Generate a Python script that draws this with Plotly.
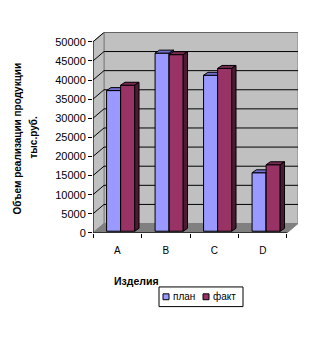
import plotly.graph_objects as go

categories = ["A", "B", "C", "D"]
plan = [36800, 46600, 40800, 15300]
fact = [38200, 46200, 42600, 17400]
series_names = ["план", "факт"]
series_colors = ["#9999FF", "#993366"]
y_ticks = list(range(0, 50001, 5000))
y_ticktext = [str(v) for v in y_ticks]

W, H = 311, 347
DX = 0.227      # depth offset of the walls in category units
DY = 2450       # depth offset of the walls in value units
BDX = 0.089     # bar depth (x)
BDY = 773       # bar depth (y)
BASE = 440
YMAX = 50000

font = "Liberation Sans, Arial, sans-serif"

fig = go.Figure()

def poly(xs, ys, fill, line="black", lw=1):
    fig.add_trace(go.Scatter(x=xs, y=ys, mode="lines", fill="toself", fillcolor=fill,
                             line=dict(color=line, width=lw), hoverinfo="skip",
                             showlegend=False))

n = len(categories)
x0, x1 = -0.5, n - 0.5
# back wall
poly([x0 + DX, x1 + DX, x1 + DX, x0 + DX, x0 + DX], [DY, DY, YMAX + DY, YMAX + DY, DY], "#C0C0C0", "#808080")
# left side wall
poly([x0, x0 + DX, x0 + DX, x0, x0], [0, DY, YMAX + DY, YMAX, 0], "#C0C0C0", "#808080")
# floor
poly([x0, x1, x1 + DX, x0 + DX, x0], [0, 0, DY, DY, 0], "#808080", "#808080")

# gridlines
gx, gy = [], []
for v in y_ticks[1:]:
    gx += [x0, x0 + DX, x1 + DX, None]
    gy += [v, v + DY, v + DY, None]
fig.add_trace(go.Scatter(x=gx, y=gy, mode="lines", line=dict(color="black", width=1),
                         hoverinfo="skip", showlegend=False))

def bar_traces(values, off, width, cfront, ctop, cside):
    fx, fy, tx, ty, sx, sy = [], [], [], [], [], []
    for i, v in enumerate(values):
        a, b = i + off, i + off + width
        top = BASE + v
        fx += [a, b, b, a, a, None]; fy += [BASE, BASE, top, top, BASE, None]
        tx += [a, a + BDX, b + BDX, b, a, None]; ty += [top, top + BDY, top + BDY, top, top, None]
        sx += [b, b + BDX, b + BDX, b, b, None]; sy += [BASE, BASE + BDY, top + BDY, top, BASE, None]
    poly(fx, fy, cfront)
    poly(tx, ty, ctop)
    poly(sx, sy, cside)

bar_traces(plan, -0.22, 0.29, series_colors[0], "#7070D0", "#4D4D99")
bar_traces(fact, 0.07, 0.29, series_colors[1], "#7A2952", "#4C1A33")

# front axis lines
fig.add_trace(go.Scatter(x=[x0, x0, x1], y=[YMAX, 0, 0], mode="lines",
                         line=dict(color="black", width=1), hoverinfo="skip", showlegend=False))

# manual legend (box, swatches, labels) in paper pixels
def px(x):
    return x / W

def py(y):
    return 1 - y / H

shapes = [dict(type="rect", xref="paper", yref="paper", x0=px(159), x1=px(243),
               y0=py(312), y1=py(292), line=dict(color="black", width=1), fillcolor="white")]
annotations = []
lx = [163, 203]
for name, col, x in zip(series_names, series_colors, lx):
    shapes.append(dict(type="rect", xref="paper", yref="paper", x0=px(x), x1=px(x + 6),
                       y0=py(305), y1=py(299), line=dict(color="black", width=1), fillcolor=col))
    annotations.append(dict(text=name, x=px(x + 8), y=py(302), xref="paper", yref="paper",
                            xanchor="left", yanchor="middle", showarrow=False,
                            font=dict(size=10)))

annotations += [
    dict(text="<b>Изделия</b>", x=px(112), y=py(286), xref="paper", yref="paper",
         xanchor="left", yanchor="middle", showarrow=False, font=dict(size=10.5)),
    dict(text="<b>Объем реализации продукции</b>", x=px(18), y=py(141), xref="paper",
         yref="paper", xanchor="center", yanchor="middle", textangle=-90, showarrow=False,
         font=dict(size=10)),
    dict(text="<b>тыс.руб.</b>", x=px(34), y=py(140), xref="paper", yref="paper",
         xanchor="center", yanchor="middle", textangle=-90, showarrow=False,
         font=dict(size=10)),
]

fig.update_layout(
    width=W, height=H, margin=dict(l=0, r=0, t=0, b=0),
    paper_bgcolor="white", plot_bgcolor="white",
    font=dict(family=font, size=10, color="black"),
    showlegend=False,
    xaxis=dict(domain=[93 / W, 298 / W], range=[x0, x1 + DX], showgrid=False, zeroline=False,
               showline=False, tickvals=list(range(n)), ticktext=categories,
               ticks="outside", ticklen=8, tickcolor="rgba(0,0,0,0)",
               tickfont=dict(size=10), fixedrange=True,
               minor=dict(tickvals=[i - 0.5 for i in range(n + 1)], ticks="outside",
                          ticklen=4, tickcolor="black", tickwidth=1, showgrid=False)),
    yaxis=dict(domain=[1 - 237 / H, 1 - 33 / H], range=[0, YMAX + DY], showgrid=False,
               zeroline=False, showline=False, tickvals=y_ticks, ticktext=y_ticktext,
               ticks="outside", ticklen=4, tickcolor="black", tickfont=dict(size=11),
               fixedrange=True),
    shapes=shapes,
    annotations=annotations,
)

fig.write_html("out.html")
